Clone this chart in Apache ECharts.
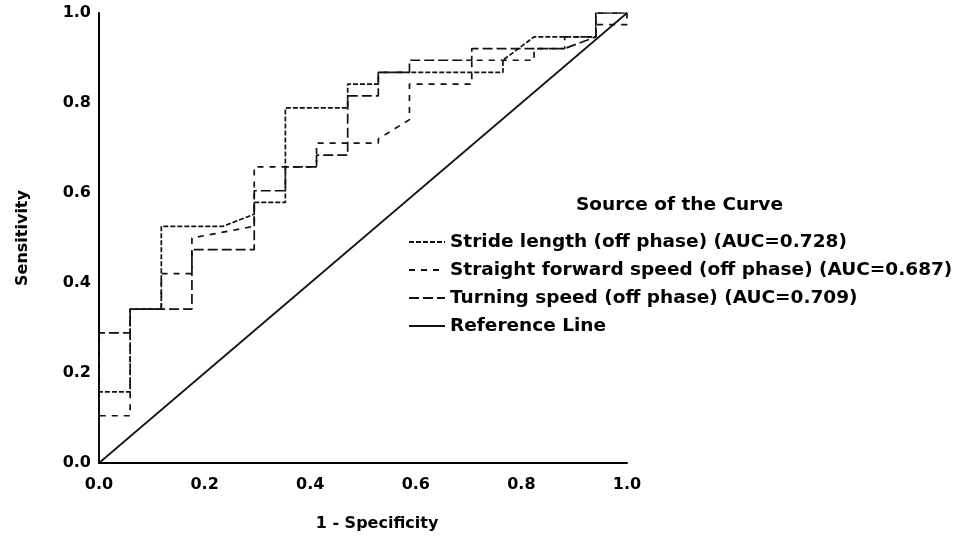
<!DOCTYPE html>
<html>
<head>
<meta charset="utf-8">
<script src="https://cdn.jsdelivr.net/npm/echarts@6/dist/echarts.min.js"></script>
<style>
  html, body { margin: 0; padding: 0; background: #fff; }
  #chart { width: 966px; height: 539px; }
</style>
</head>
<body>
<div id="chart"></div>
<script>
// ROC curves, x = 1 - specificity, y = sensitivity
const strideX = [0, 0, 0.059, 0.059, 0.118, 0.118, 0.235, 0.294, 0.294, 0.353, 0.353, 0.471, 0.471, 0.529, 0.529, 0.765, 0.765, 0.824, 0.941, 0.941, 1];
const strideY = [0, 0.158, 0.158, 0.342, 0.342, 0.526, 0.526, 0.553, 0.579, 0.579, 0.789, 0.789, 0.842, 0.842, 0.868, 0.868, 0.895, 0.947, 0.947, 1, 1];

const straightX = [0, 0, 0.059, 0.059, 0.118, 0.118, 0.176, 0.176, 0.294, 0.294, 0.412, 0.412, 0.529, 0.529, 0.588, 0.588, 0.706, 0.706, 0.824, 0.824, 0.882, 0.882, 0.941, 0.941, 1, 1];
const straightY = [0, 0.105, 0.105, 0.342, 0.342, 0.421, 0.421, 0.5, 0.526, 0.658, 0.658, 0.711, 0.711, 0.72, 0.763, 0.842, 0.842, 0.895, 0.895, 0.921, 0.921, 0.947, 0.947, 0.974, 0.974, 1];

const turningX = [0, 0, 0.059, 0.059, 0.176, 0.176, 0.294, 0.294, 0.353, 0.353, 0.412, 0.412, 0.471, 0.471, 0.529, 0.529, 0.588, 0.588, 0.706, 0.706, 0.882, 0.941, 0.941, 1];
const turningY = [0, 0.289, 0.289, 0.342, 0.342, 0.474, 0.474, 0.605, 0.605, 0.658, 0.658, 0.684, 0.684, 0.816, 0.816, 0.868, 0.868, 0.895, 0.895, 0.921, 0.921, 0.947, 1, 1];

const refX = [0, 1];
const refY = [0, 1];

const names = [
  "Stride length (off phase) (AUC=0.728)",
  "Straight forward speed (off phase) (AUC=0.687)",
  "Turning speed (off phase) (AUC=0.709)",
  "Reference Line"
];

const pairs = (xs, ys) => xs.map((x, i) => [x, ys[i]]);
const FONT = "DejaVu Sans";

const chart = echarts.init(document.getElementById("chart"), null, { renderer: "canvas" });

function curve(name, xs, ys, dash, width) {
  return {
    name: name,
    type: "line",
    data: pairs(xs, ys),
    showSymbol: false,
    symbol: "none",
    silent: true,
    itemStyle: { color: "rgba(0,0,0,0)" }, // hides the dot in the legend icon
    lineStyle: { color: "#111", width: width, type: dash },
  };
}

const tickLabel = {
  fontFamily: FONT,
  fontSize: 16,
  fontWeight: "bold",
  color: "#000",
  showMinLabel: true,
  showMaxLabel: true,
  formatter: (v) => v.toFixed(1),
};

chart.setOption({
  animation: false,
  backgroundColor: "#fff",
  title: {
    text: "Source of the Curve",
    left: 576,
    top: 196,
    padding: 0,
    textStyle: { fontFamily: FONT, fontSize: 18.5, fontWeight: "bold", color: "#000" },
  },
  legend: {
    orient: "vertical",
    left: 408,
    top: 232,
    padding: 0,
    itemWidth: 36,
    itemHeight: 14,
    itemGap: 8,
    data: names,
    textStyle: { fontFamily: FONT, fontSize: 18.5, fontWeight: "bold", color: "#000", lineHeight: 20 },
  },
  grid: { left: 99, right: 339, top: 13, bottom: 76 },
  xAxis: {
    type: "value",
    min: 0,
    max: 1,
    interval: 0.2,
    name: "1 - Specificity",
    nameLocation: "middle",
    nameGap: 53,
    nameTextStyle: { fontFamily: FONT, fontSize: 16, fontWeight: "bold", color: "#000", padding: [0, 0, 0, 28] },
    axisLine: { show: true, lineStyle: { color: "#000", width: 2 } },
    axisTick: { show: false },
    splitLine: { show: false },
    axisLabel: Object.assign({ margin: 14 }, tickLabel),
  },
  yAxis: {
    type: "value",
    min: 0,
    max: 1,
    interval: 0.2,
    name: "Sensitivity",
    nameLocation: "middle",
    nameGap: 68,
    nameTextStyle: { fontFamily: FONT, fontSize: 16, fontWeight: "bold", color: "#000" },
    axisLine: { show: true, lineStyle: { color: "#000", width: 2 } },
    axisTick: { show: false },
    splitLine: { show: false },
    axisLabel: Object.assign({ margin: 8 }, tickLabel),
  },
  series: [
    curve(names[0], strideX, strideY, [5, 2], 1.7),
    curve(names[1], straightX, straightY, [6, 6], 1.7),
    curve(names[2], turningX, turningY, [10, 4], 1.7),
    curve(names[3], refX, refY, "solid", 1.7),
  ],
});
</script>
</body>
</html>
